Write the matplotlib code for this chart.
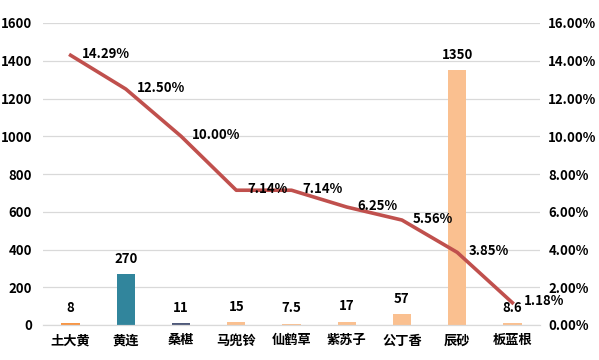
import matplotlib
matplotlib.use("Agg")
import matplotlib.pyplot as plt
from matplotlib.ticker import FuncFormatter

plt.rcParams['font.family'] = ['Noto Sans CJK SC', 'DejaVu Sans']
plt.rcParams['font.weight'] = 'bold'

herbs = ['土大黄', '黄连', '桑椹', '马兜铃', '仙鹤草', '紫苏子', '公丁香', '辰砂', '板蓝根']
amounts = [8, 270, 11, 15, 7.5, 17, 57, 1350, 8.6]
amount_labels = ['8', '270', '11', '15', '7.5', '17', '57', '1350', '8.6']
ratios = [14.29, 12.50, 10.00, 7.14, 7.14, 6.25, 5.56, 3.85, 1.18]
bar_colors = ['#F79646', '#31859C', '#4F5A7A', '#FAC090', '#FAC090',
              '#FAC090', '#FAC090', '#FAC090', '#FAC090']

fig = plt.figure(figsize=(5.99, 3.6), dpi=100)
ax = fig.add_axes([43 / 599, 1 - 325 / 360, 497 / 599, 302 / 360])
ax2 = ax.twinx()

x = list(range(len(herbs)))
ax.bar(x, amounts, width=0.33, color=bar_colors, zorder=2)
for xi, v, lab in zip(x, amounts, amount_labels):
    ax.annotate(lab, (xi, v), xytext=(0, 6), textcoords='offset points',
                ha='center', va='bottom', fontsize=9.5, fontweight='bold')

ax.set_ylim(0, 1600)
ax.set_yticks(range(0, 1601, 200))
ax.set_xlim(-0.5, len(herbs) - 0.5)
ax.set_xticks(x)
ax.set_xticklabels(herbs, fontsize=9.5, fontweight='bold')
ax.grid(axis='y', color='#D9D9D9', linewidth=0.9, zorder=0)
ax.set_axisbelow(True)

ax2.plot(x, [r / 100 for r in ratios], color='#C0504D', linewidth=2.6, zorder=3)
for xi, r in zip(x, ratios):
    ax2.annotate('%.2f%%' % r, (xi, r / 100), xytext=(8, 1), textcoords='offset points',
                 ha='left', va='center', fontsize=9.5, fontweight='bold')
ax2.set_ylim(0, 0.16)
ax2.set_yticks([i / 100 for i in range(0, 17, 2)])
ax2.yaxis.set_major_formatter(FuncFormatter(lambda v, p: '%.2f%%' % (v * 100)))

for a in (ax, ax2):
    for s in ['top', 'left', 'right']:
        a.spines[s].set_visible(False)
    a.spines['bottom'].set_color('#D9D9D9')
    a.tick_params(length=0, labelsize=9.5)
    for t in a.get_yticklabels():
        t.set_fontweight('bold')
ax.tick_params(axis='x', pad=6)
ax.tick_params(axis='y', pad=8)
ax2.tick_params(axis='y', pad=6)
ax.set_zorder(ax2.get_zorder() - 1)
ax2.patch.set_visible(False)

fig.savefig('out.png', dpi=100)
